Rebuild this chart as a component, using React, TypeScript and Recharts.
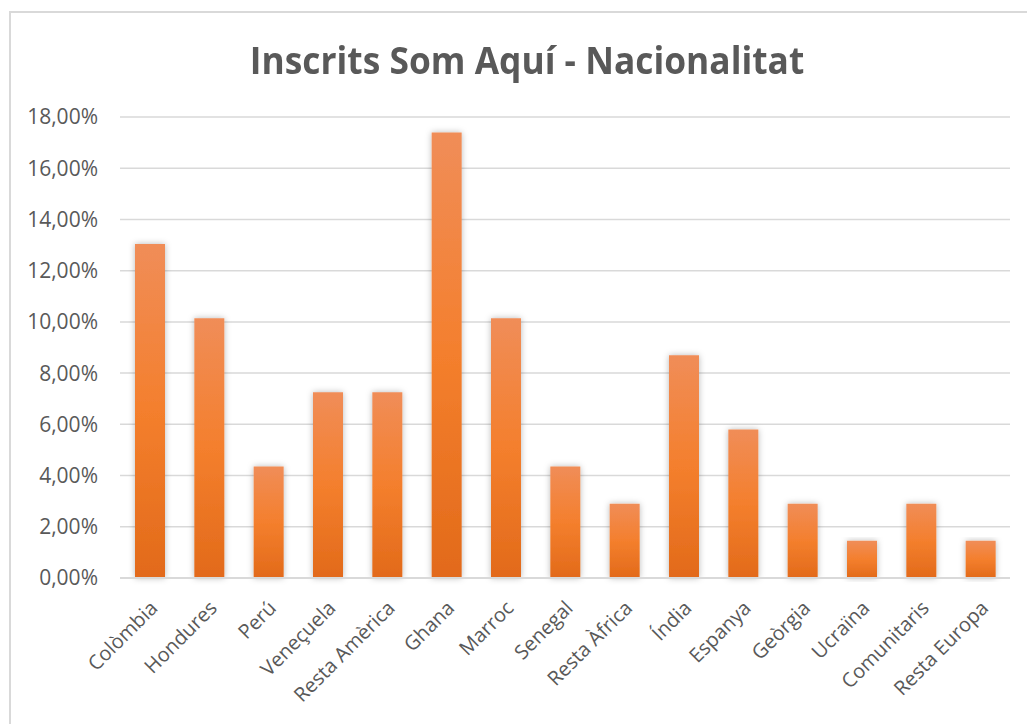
import { BarChart, Bar, XAxis, YAxis, CartesianGrid } from 'recharts';

const countries = [
  'Colòmbia',
  'Hondures',
  'Perú',
  'Veneçuela',
  'Resta Amèrica',
  'Ghana',
  'Marroc',
  'Senegal',
  'Resta Àfrica',
  'Índia',
  'Espanya',
  'Geòrgia',
  'Ucraïna',
  'Comunitaris',
  'Resta Europa',
];

const shares = [
  0.1304, 0.1014, 0.0435, 0.0725, 0.0725, 0.1739, 0.1014, 0.0435, 0.029, 0.087, 0.058, 0.029, 0.0145,
  0.029, 0.0145,
];

const yTicks = [0, 0.02, 0.04, 0.06, 0.08, 0.1, 0.12, 0.14, 0.16, 0.18];

const data = countries.map((name, i) => ({ name, value: shares[i] }));

const pct = (v: number) => (v * 100).toFixed(2).replace('.', ',') + '%';

const FONT = '"Open Sans", sans-serif';

const CountryTick = ({ x, y, payload }: any) => (
  <g transform={`translate(${x},${y})`}>
    <text
      x={0}
      y={0}
      dx={-10}
      dy={23}
      textAnchor="end"
      transform="rotate(-45)"
      fill="#595959"
      fontSize={20}
      fontFamily={FONT}
    >
      {payload.value}
    </text>
  </g>
);

const App = () => {
  return (
    <div
      style={{
        position: 'absolute',
        left: 9,
        top: 11,
        width: 1030,
        height: 720,
        border: '2px solid #d9d9d9',
        boxSizing: 'border-box',
        background: '#fff',
      }}
    >
      <div
        style={{
          position: 'absolute',
          left: 0,
          top: 20,
          width: 1032,
          textAlign: 'center',
        }}
      >
        <span
          style={{
            display: 'inline-block',
            transform: 'scaleX(0.93)',
            fontFamily: FONT,
            fontWeight: 'bold',
            fontSize: 38,
            color: '#595959',
          }}
        >
          Inscrits Som Aquí - Nacionalitat
        </span>
      </div>
      <div style={{ position: 'absolute', left: -2, top: -2 }}>
        <BarChart
          width={1020}
          height={706}
          data={data}
          margin={{ top: 106, right: 19, bottom: 0, left: 0 }}
          barSize={30}
        >
          <defs>
            <linearGradient id="barFill" x1="0" y1="0" x2="0" y2="1">
              <stop offset="0%" stopColor="#F08D58" />
              <stop offset="50%" stopColor="#F47F2D" />
              <stop offset="100%" stopColor="#E26A1A" />
            </linearGradient>
            <filter id="barShadow" x="-50%" y="-10%" width="200%" height="120%">
              <feDropShadow dx="0" dy="0" stdDeviation="3" floodColor="#000" floodOpacity="0.28" />
            </filter>
          </defs>
          <CartesianGrid vertical={false} stroke="#d9d9d9" strokeWidth={1.5} />
          <XAxis
            dataKey="name"
            interval={0}
            height={139}
            tickLine={false}
            axisLine={{ stroke: '#d9d9d9', strokeWidth: 2 }}
            tick={<CountryTick />}
          />
          <YAxis
            domain={[0, 0.18]}
            ticks={yTicks}
            width={111}
            tickLine={false}
            axisLine={false}
            tickFormatter={pct}
            tickMargin={16}
            tick={{ fill: '#595959', fontSize: 21, fontFamily: FONT }}
          />
          <Bar dataKey="value" fill="url(#barFill)" filter="url(#barShadow)" isAnimationActive={false} />
        </BarChart>
      </div>
    </div>
  );
};

export default App;
